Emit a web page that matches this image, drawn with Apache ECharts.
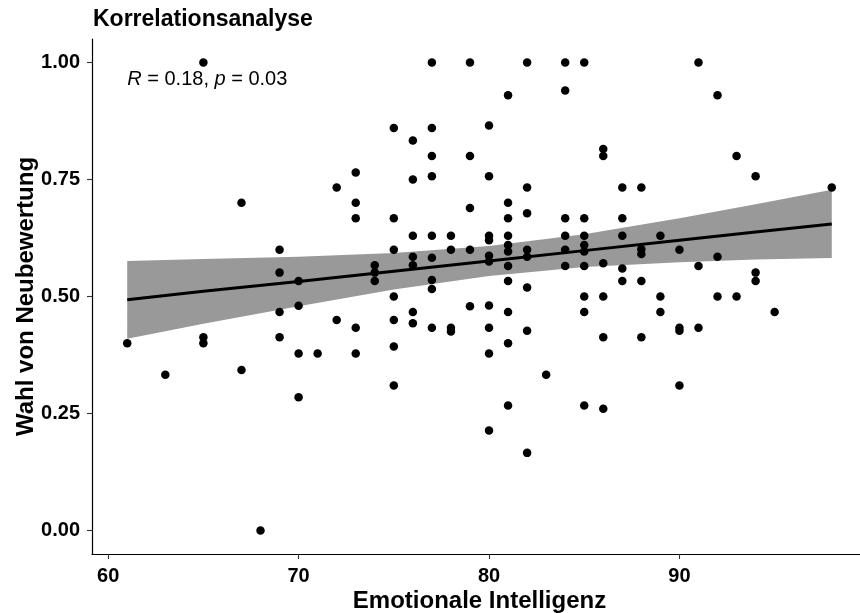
<!DOCTYPE html>
<html>
<head>
<meta charset="utf-8">
<script src="https://cdn.jsdelivr.net/npm/echarts@6/dist/echarts.min.js"></script>
<style>
  html, body { margin: 0; padding: 0; background: #fff; }
  #chart { width: 860px; height: 613px; }
</style>
</head>
<body>
<div id="chart"></div>
<script>
// Emotionale Intelligenz (x) und Wahl von Neubewertung (y)
var emotionaleIntelligenz = [
  61, 63, 65, 65, 65, 67, 67, 68,
  69, 69, 69, 69, 70, 70, 70, 70, 71, 72, 72,
  73, 73, 73, 73, 73, 74, 74, 74,
  75, 75, 75, 75, 75, 75, 75,
  76, 76, 76, 76, 76, 76, 76,
  77, 77, 77, 77, 77, 77, 77, 77, 77,
  78, 78, 78, 78, 79, 79, 79, 79, 79,
  80, 80, 80, 80, 80, 80, 80, 80, 80, 80,
  81, 81, 81, 81, 81, 81, 81, 81, 81, 81, 81,
  82, 82, 82, 82, 82, 82, 82, 82, 83,
  84, 84, 84, 84, 84, 84,
  85, 85, 85, 85, 85, 85, 85, 85, 85,
  86, 86, 86, 86, 86, 86,
  87, 87, 87, 87, 87, 88, 88, 88, 88, 88,
  89, 89, 89, 90, 90, 90, 90, 91, 91, 91,
  92, 92, 92, 93, 93, 94, 94, 94, 95, 98
];
var wahlNeubewertung = [
  0.40, 0.333, 1.00, 0.413, 0.40, 0.70, 0.343, 0.00,
  0.60, 0.551, 0.467, 0.413, 0.533, 0.48, 0.378, 0.285, 0.378, 0.733, 0.45,
  0.765, 0.70, 0.667, 0.433, 0.378, 0.567, 0.551, 0.533,
  0.86, 0.667, 0.60, 0.50, 0.45, 0.393, 0.31,
  0.833, 0.75, 0.63, 0.585, 0.567, 0.467, 0.443,
  1.00, 0.86, 0.80, 0.757, 0.63, 0.583, 0.535, 0.516, 0.433,
  0.63, 0.60, 0.433, 0.425, 1.00, 0.80, 0.689, 0.60, 0.479,
  0.865, 0.757, 0.63, 0.62, 0.587, 0.575, 0.481, 0.433, 0.378, 0.214,
  0.93, 0.70, 0.667, 0.63, 0.61, 0.596, 0.565, 0.533, 0.467, 0.40, 0.267,
  1.00, 0.733, 0.678, 0.60, 0.585, 0.519, 0.427, 0.166, 0.333,
  1.00, 0.94, 0.667, 0.63, 0.60, 0.565,
  1.00, 0.667, 0.63, 0.61, 0.596, 0.565, 0.50, 0.467, 0.267,
  0.815, 0.80, 0.571, 0.50, 0.413, 0.26,
  0.733, 0.667, 0.63, 0.56, 0.533, 0.733, 0.601, 0.591, 0.533, 0.413,
  0.63, 0.50, 0.467, 0.60, 0.433, 0.427, 0.31, 1.00, 0.565, 0.433,
  0.93, 0.585, 0.50, 0.80, 0.50, 0.757, 0.551, 0.533, 0.467, 0.733
];

// Regressionsgerade und Konfidenzband
var fitX    = [61, 65, 70, 75, 80, 85, 90, 94, 98];
var fitY    = [0.493, 0.511, 0.532, 0.554, 0.576, 0.598, 0.620, 0.638, 0.655];
var bandLow = [0.410, 0.442, 0.479, 0.515, 0.544, 0.563, 0.573, 0.579, 0.582];
var bandUp  = [0.576, 0.580, 0.585, 0.593, 0.608, 0.633, 0.667, 0.697, 0.728];

var xTicks = [60, 70, 80, 90];
var yTicks = [0, 0.25, 0.5, 0.75, 1];

var fontFam = 'Liberation Sans, Arial, sans-serif';

var points = emotionaleIntelligenz.map(function (x, i) { return [x, wahlNeubewertung[i]]; });
var lineData = fitX.map(function (x, i) { return [x, fitY[i]]; });

var chart = echarts.init(document.getElementById('chart'), null, { renderer: 'canvas' });

var axisCommon = {
  type: 'value',
  splitLine: { show: false },
  axisLine: { show: true, onZero: false, lineStyle: { color: '#000', width: 1.2 } },
  axisTick: { show: true, length: 5, lineStyle: { color: '#333', width: 1.1 } },
  nameLocation: 'middle',
  nameMoveOverlap: false,
  nameTextStyle: { fontFamily: fontFam, fontWeight: 'bold', fontSize: 24, color: '#000' }
};

var option = {
  animation: false,
  backgroundColor: '#fff',
  title: {
    text: 'Korrelationsanalyse',
    left: 93,
    top: 8,
    padding: 0,
    textStyle: { fontFamily: fontFam, fontWeight: 'bold', fontSize: 23, color: '#000' }
  },
  grid: { left: 92, top: 39, right: -7, bottom: 59, containLabel: false, outerBoundsMode: 'none' },
  xAxis: Object.assign({}, axisCommon, {
    min: 59.15,
    max: 99.85,
    name: 'Emotionale Intelligenz',
    nameGap: 35,
    axisTick: Object.assign({}, axisCommon.axisTick, { customValues: xTicks }),
    axisLabel: {
      customValues: xTicks,
      margin: 12,
      fontFamily: fontFam, fontWeight: 'bold', fontSize: 20, color: '#000'
    }
  }),
  yAxis: Object.assign({}, axisCommon, {
    min: -0.05,
    max: 1.05,
    name: 'Wahl von Neubewertung',
    nameGap: 54,
    axisTick: Object.assign({}, axisCommon.axisTick, { customValues: yTicks }),
    axisLabel: {
      customValues: yTicks,
      margin: 12,
      formatter: function (v) { return v.toFixed(2); },
      fontFamily: fontFam, fontWeight: 'bold', fontSize: 20, color: '#000'
    }
  }),
  series: [
    {
      // Konfidenzband als ein Polygon
      type: 'custom',
      data: [0],
      silent: true,
      z: 1,
      renderItem: function (params, api) {
        var pts = [];
        for (var i = 0; i < fitX.length; i++) pts.push(api.coord([fitX[i], bandUp[i]]));
        for (var j = fitX.length - 1; j >= 0; j--) pts.push(api.coord([fitX[j], bandLow[j]]));
        return {
          type: 'polygon',
          shape: { points: pts },
          style: { fill: '#999999', stroke: null }
        };
      }
    },
    {
      type: 'line',
      data: lineData,
      symbol: 'none',
      lineStyle: { color: '#000', width: 3 },
      silent: true,
      z: 2
    },
    {
      type: 'scatter',
      data: points,
      symbol: 'circle',
      symbolSize: 8.5,
      itemStyle: { color: '#000', opacity: 1 },
      silent: true,
      z: 3
    },
    {
      type: 'scatter',
      data: [[61, 0.963]],
      symbolSize: 0,
      itemStyle: { opacity: 1 },
      silent: true,
      z: 4,
      label: {
        show: true,
        position: 'right',
        distance: 0,
        formatter: '{i|R} = 0.18, {i|p} = 0.03',
        fontFamily: fontFam,
        fontSize: 20,
        color: '#000',
        opacity: 1,
        rich: {
          i: { fontFamily: fontFam, fontSize: 20, fontStyle: 'italic', color: '#000' }
        }
      }
    }
  ]
};

chart.setOption(option);
</script>
</body>
</html>
